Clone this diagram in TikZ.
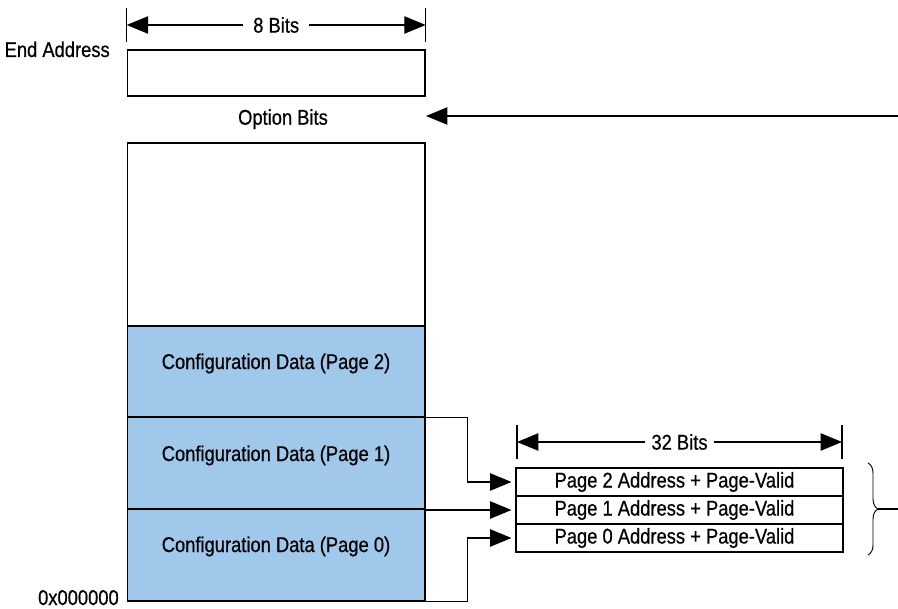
\documentclass[tikz,border=0pt]{standalone}
\usepackage{fontspec}
\setmainfont{Liberation Sans}[FakeStretch=0.86,FakeBold=0.6]
\usetikzlibrary{arrows.meta,decorations.pathreplacing}
\definecolor{cfgblue}{RGB}{159,200,234}
\tikzset{
  lbl/.style={font=\fontsize{16pt}{19pt}\selectfont, inner sep=0pt},
  membox/.style={draw=black, line width=0.8pt, inner sep=0pt, minimum width=223.1pt},
  rowbox/.style={draw=black, line width=0.8pt, inner sep=0pt, minimum width=245.25pt, minimum height=21pt, font=\fontsize{16pt}{19pt}\selectfont},
  tick/.style={line width=0.8pt},
  dimline/.style={line width=0.8pt, {Triangle[length=16pt,width=13pt]}-{Triangle[length=16pt,width=13pt]}},
  conn/.style={line width=0.8pt, -{Triangle[length=16pt,width=13pt]}, shorten >=3pt},
}
\begin{document}
\begin{tikzpicture}[x=0.75pt,y=-0.75pt]
\useasboundingbox (0,0) rectangle (898,609);

% memory boxes
\node[membox, minimum height=34.5pt] (endbox) at (276.25,73) {};
\node[membox, minimum height=137.25pt] (blank) at (276.25,234.5) {};
\node[membox, fill=cfgblue, minimum height=68.25pt] (p2) at (276.25,371.5) {};
\node[membox, fill=cfgblue, minimum height=69pt] (p1) at (276.25,463) {};
\node[membox, fill=cfgblue, minimum height=69pt] (p0) at (276.25,555) {};

\node[lbl, anchor=base] (p2t) at (276,369) {Configuration Data (Page 2)};
\node[lbl, anchor=base] (p1t) at (276,461) {Configuration Data (Page 1)};
\node[lbl, anchor=base] (p0t) at (276,552) {Configuration Data (Page 0)};

\node[lbl, anchor=base east] (endaddr) at (110,57) {End Address};
\node[lbl, anchor=base east] (zero) at (119,605) {0x000000};
\node[lbl, anchor=base] (opt) at (283,124.7) {Option Bits};

% 8 bits dimension
\coordinate (t8a) at (126.7,8); \coordinate (t8b) at (126.7,42);
\coordinate (t8c) at (425.7,8); \coordinate (t8d) at (425.7,42);
\draw[tick] (t8a) -- (t8b);
\draw[tick] (t8c) -- (t8d);
\coordinate (d8l) at (126.7,25); \coordinate (d8r) at (425.7,25);
\draw[dimline] (d8l) -- node[lbl, fill=white, inner xsep=7.5pt] (bits8) {8 Bits} (d8r);

% option bits arrow
\coordinate (optsrc) at (898,116);
\coordinate (optdst) at (426,116);
\draw[line width=0.8pt, -{Triangle[length=16pt,width=13pt]}] (optsrc) -- (optdst);

% table
\node[rowbox] (r2) at (679.5,482) {Page 2 Address + Page-Valid\hspace*{7.5pt}};
\node[rowbox] (r1) at (679.5,510) {Page 1 Address + Page-Valid\hspace*{7.5pt}};
\node[rowbox] (r0) at (679.5,538) {Page 0 Address + Page-Valid\hspace*{7.5pt}};

% 32 bits dimension
\coordinate (t32a) at (517,425); \coordinate (t32b) at (517,459);
\coordinate (t32c) at (842,425); \coordinate (t32d) at (842,459);
\draw[tick] (t32a) -- (t32b);
\draw[tick] (t32c) -- (t32d);
\coordinate (d32l) at (517,442); \coordinate (d32r) at (842,442);
\draw[dimline] (d32l) -- node[lbl, fill=white, inner xsep=5pt] (bits32) {32 Bits} (d32r);

% connectors
\draw[conn] (p2.south east) -- ++(42,0) |- (r2.west);
\draw[conn] (p1.south east |- r1.west) -- (r1.west);
\draw[conn] (p0.south east) -- ++(42,0) |- (r0.west);

% brace
\coordinate (bt) at (868,463);
\coordinate (bb) at (868,555);
\draw[line width=0.7pt, decorate, decoration={brace, amplitude=7.5pt}] (bt) -- (bb);
\coordinate (btip) at (878,509);
\coordinate (bend) at (898,509);
\draw[line width=0.8pt] (btip) -- (bend);
\end{tikzpicture}
\end{document}
